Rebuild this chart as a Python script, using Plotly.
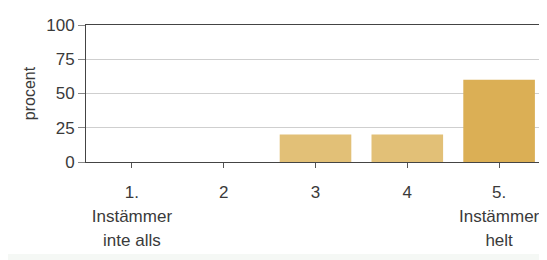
import plotly.graph_objects as go

categories = ["1", "2", "3", "4", "5"]
tick_labels = ["1.<br>Instämmer<br>inte alls", "2", "3", "4", "5.<br>Instämmer<br>helt"]
values = [0, 0, 20, 20, 60]
bar_colors = ["#E2C077", "#E2C077", "#E2C077", "#E2C077", "#DBAF55"]

FONT = "Liberation Sans, Arial, sans-serif"
TXT = "#3a3a3a"

def wrap(label):
    return "<br>".join(f'<span style="font-size:17px">{p}</span>' for p in label.split("<br>"))

fig = go.Figure(go.Bar(
    x=categories, y=values,
    marker=dict(color=bar_colors, line=dict(width=0)),
))

# page body has an 8px margin: figure is sized/offset accordingly
fig.update_layout(
    width=539, height=252,
    margin=dict(l=78, r=2, t=17, b=98),
    paper_bgcolor="white", plot_bgcolor="white",
    bargap=0.22,
    showlegend=False,
    font=dict(family=FONT, size=17, color=TXT),
    xaxis=dict(
        type="category", automargin=False,
        tickmode="array", tickvals=categories, ticktext=[wrap(t) for t in tick_labels],
        tickfont=dict(size=18.5, color=TXT),
        ticks="outside", ticklen=5, tickcolor="#555",
        ticklabelstandoff=8,
        showline=True, linecolor="#444", linewidth=1, mirror=True,
        showgrid=False,
    ),
    yaxis=dict(
        range=[0, 100], tickvals=[0, 25, 50, 75, 100], automargin=False,
        ticks="outside", ticklen=7, tickcolor="#888",
        tickfont=dict(size=17, color=TXT),
        showline=True, linecolor="#444", linewidth=1, mirror=True,
        showgrid=True, gridcolor="#cfcfcf", gridwidth=1,
        zeroline=False,
        title=dict(text="procent", font=dict(size=16, color=TXT), standoff=6),
    ),
    shapes=[dict(type="rect", xref="paper", yref="paper", x0=-0.2, x1=1.01, y0=-0.672, y1=-0.72,
                 fillcolor="#F5F8F5", line=dict(width=0), layer="below")],
)

fig.write_html("out.html")
